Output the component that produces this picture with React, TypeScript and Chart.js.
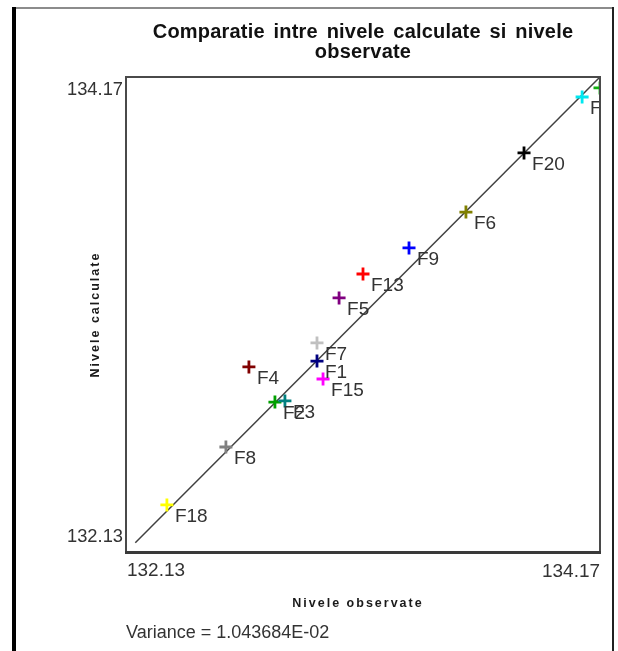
import { useEffect, useRef } from 'react';
import { Chart, registerables } from 'chart.js';

Chart.register(...registerables);

// ---- data ----
const pointNames = ['F1', 'F2', 'F3', 'F4', 'F5', 'F6', 'F7', 'F8', 'F9', 'F13', 'F15', 'F18', 'F20', 'F10', 'F11'];
const observedLevels = [132.952, 132.771, 132.814, 132.659, 133.047, 133.593, 132.952, 132.56, 133.348, 133.15, 132.978, 132.306, 133.843, 134.093, 134.17];
const calculatedLevels = [132.95, 132.774, 132.779, 132.925, 133.221, 133.59, 133.028, 132.581, 133.436, 133.324, 132.873, 132.332, 133.844, 134.084, 134.123];
const pointColors = ['#000080', '#00a000', '#008080', '#800000', '#800080', '#808000', '#c0c0c0', '#808080', '#0000ff', '#ff0000', '#ff00ff', '#ffff00', '#000000', '#00e8f0', '#10b010'];
const identityLine = [132.17, 134.17];
const axisMin = 132.13;
const axisMax = 134.17;
const tickLabels = ['132.13', '134.17'];
const titleLines = ['Comparatie intre nivele calculate si nivele', 'observate'];
const xTitle = 'Nivele observate';
const yTitle = 'Nivele calculate';
const varianceText = 'Variance = 1.043684E-02';

const FONT = "'Liberation Sans', Arial, sans-serif";

const decor = {
  id: 'decor',
  beforeDraw(chart: any) {
    const ctx = chart.ctx as CanvasRenderingContext2D;
    ctx.save();
    ctx.fillStyle = '#ffffff';
    ctx.fillRect(0, 0, chart.width, chart.height);
    // outer frame
    ctx.fillStyle = '#8c8c8c';
    ctx.fillRect(12, 7, 602, 2);
    ctx.fillStyle = '#000000';
    ctx.fillRect(12, 7, 4, chart.height - 7);
    ctx.fillStyle = '#202020';
    ctx.fillRect(612, 7, 2, chart.height - 7);
    ctx.restore();
  },
  afterDatasetsDraw(chart: any) {
    const ctx = chart.ctx as CanvasRenderingContext2D;
    const a = chart.chartArea;
    const xs = chart.scales.x;
    const ys = chart.scales.y;
    ctx.save();
    ctx.beginPath();
    ctx.rect(a.left, a.top, a.right - a.left, a.bottom - a.top);
    ctx.clip();
    ctx.fillStyle = '#333333';
    ctx.font = `19px ${FONT}`;
    ctx.textAlign = 'left';
    ctx.textBaseline = 'middle';
    pointNames.forEach((n, i) => {
      const px = xs.getPixelForValue(observedLevels[i]);
      const py = ys.getPixelForValue(calculatedLevels[i]);
      ctx.fillText(n, px + 8, py + 12);
    });
    ctx.restore();
    // plot frame
    ctx.save();
    ctx.strokeStyle = '#4a4a4a';
    ctx.lineWidth = 2;
    ctx.strokeRect(a.left, a.top, a.right - a.left, a.bottom - a.top);
    ctx.fillStyle = '#3a3a3a';
    ctx.fillRect(a.left - 1, a.bottom - 1, a.right - a.left + 2, 3);
    ctx.restore();
  },
  afterDraw(chart: any) {
    const ctx = chart.ctx as CanvasRenderingContext2D;
    const a = chart.chartArea;
    const xs = chart.scales.x;
    const ys = chart.scales.y;
    const cx = (a.left + a.right) / 2;
    ctx.save();
    // title
    ctx.fillStyle = '#111111';
    ctx.font = `bold 20px ${FONT}`;
    (ctx as any).letterSpacing = '0.2px';
    (ctx as any).wordSpacing = '3px';
    ctx.textAlign = 'center';
    ctx.textBaseline = 'middle';
    ctx.fillText(titleLines[0], cx, 32);
    (ctx as any).wordSpacing = '0px';
    ctx.fillText(titleLines[1], cx, 52);
    (ctx as any).letterSpacing = '0px';

    // tick labels
    ctx.fillStyle = '#333333';
    ctx.font = `19px ${FONT}`;
    ctx.textBaseline = 'middle';
    ctx.textAlign = 'right';
    ctx.fillText(tickLabels[1], a.left - 3, ys.getPixelForValue(axisMax) + 13, 56);
    ctx.fillText(tickLabels[0], a.left - 3, ys.getPixelForValue(axisMin) - 15, 56);
    ctx.textAlign = 'left';
    ctx.fillText(tickLabels[0], xs.getPixelForValue(axisMin) + 1, a.bottom + 19, 58);
    ctx.textAlign = 'right';
    ctx.fillText(tickLabels[1], xs.getPixelForValue(axisMax), a.bottom + 20, 58);

    // axis titles
    ctx.fillStyle = '#1a1a1a';
    ctx.font = `bold 12.5px ${FONT}`;
    (ctx as any).letterSpacing = '2px';
    ctx.textAlign = 'center';
    ctx.fillText(xTitle, cx - 5, a.bottom + 52);
    ctx.save();
    ctx.translate(96, (a.top + a.bottom) / 2);
    ctx.rotate(-Math.PI / 2);
    ctx.fillText(yTitle, 0, 0);
    ctx.restore();
    (ctx as any).letterSpacing = '0px';

    // variance
    ctx.fillStyle = '#333333';
    ctx.font = `18px ${FONT}`;
    ctx.textAlign = 'left';
    ctx.fillText(varianceText, a.left, a.bottom + 81);
    ctx.restore();
  },
};

export default function App() {
  const ref = useRef<HTMLCanvasElement | null>(null);
  useEffect(() => {
    if (!ref.current) return;
    const chart = new Chart(ref.current, {
      type: 'scatter',
      data: {
        datasets: [
          {
            label: 'Puncte',
            data: observedLevels.map((x, i) => ({ x, y: calculatedLevels[i] })),
            pointStyle: 'cross',
            pointRadius: 6.5,
            pointHoverRadius: 6.5,
            pointBorderWidth: 2.8,
            pointBorderColor: pointColors,
            pointBackgroundColor: pointColors,
            showLine: false,
            clip: 0,
            order: 0,
          },
          {
            label: 'Identitate',
            data: identityLine.map((v) => ({ x: v, y: v })),
            showLine: true,
            borderColor: '#404040',
            borderWidth: 1.5,
            pointRadius: 0,
            clip: 0,
            order: 1,
          },
        ],
      },
      options: {
        responsive: false,
        animation: false,
        layout: { padding: { left: 126, top: 77, right: 18, bottom: 99 } },
        scales: {
          x: { type: 'linear', min: axisMin, max: axisMax, display: false },
          y: { type: 'linear', min: axisMin, max: axisMax, display: false },
        },
        plugins: {
          legend: { display: false },
          title: { display: false },
          tooltip: { enabled: false },
        },
        events: [],
      },
      plugins: [decor],
    });
    return () => chart.destroy();
  }, []);
  return (
    <canvas
      ref={ref}
      width={618}
      height={651}
      style={{ position: 'absolute', left: 0, top: 0, width: 618, height: 651 }}
    />
  );
}
